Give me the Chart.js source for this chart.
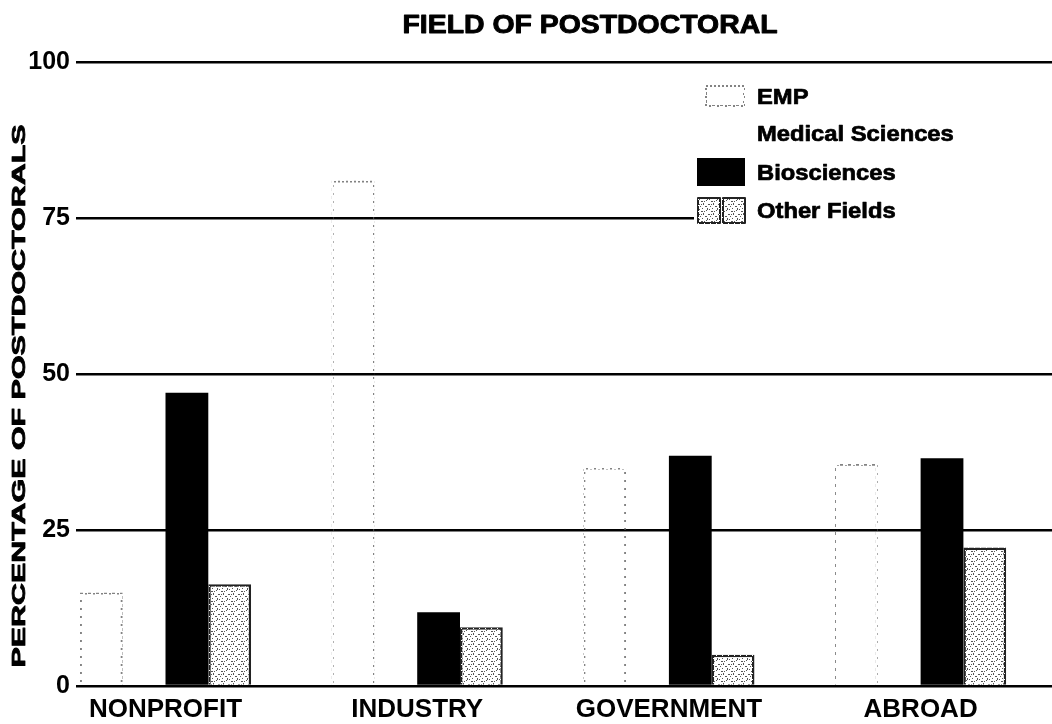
<!DOCTYPE html>
<html><head><meta charset="utf-8">
<script src="https://cdn.jsdelivr.net/npm/chart.js@4.4.1/dist/chart.umd.min.js"></script>
<style>html,body{margin:0;padding:0;background:#fff;overflow:hidden}</style>
</head><body>
<canvas id="c" width="1052" height="724"></canvas>
<script>
// ---- data ----
const categories = ['NONPROFIT', 'INDUSTRY', 'GOVERNMENT', 'ABROAD'];
const seriesNames = ['EMP', 'Medical Sciences', 'Biosciences', 'Other Fields'];
const empValues = [15, 81, 35, 35.6];
const medicalValues = [null, null, null, null];
const bioValues = [47, 11.8, 36.9, 36.5];
const otherValues = [16.3, 9.4, 5, 22.2];
const yTickValues = [0, 25, 50, 75, 100];
const chartTitle = 'FIELD OF POSTDOCTORAL';
const yAxisTitle = 'PERCENTAGE OF POSTDOCTORALS';

const FONT = '"Liberation Sans", Arial, Helvetica, sans-serif';
const canvas = document.getElementById('c');
const ctx = canvas.getContext('2d');

function makePattern(size, bg, color, dots) {
  const c = document.createElement('canvas');
  c.width = size; c.height = size;
  const g = c.getContext('2d');
  if (bg) { g.fillStyle = bg; g.fillRect(0, 0, size, size); }
  g.fillStyle = color;
  dots.forEach(d => g.fillRect(d[0], d[1], d[2] || 1, d[3] || 1));
  return ctx.createPattern(c, 'repeat');
}
const stipple = makePattern(10, '#ffffff', '#555555',
  [[1,1,2,1],[6,0],[3,3,1,2],[8,4,2,1],[0,6],[5,6,2,1],[2,8],[7,8,1,2],[4,1],[9,9],[1,4]]);
const dottedEdge = makePattern(8, null, 'rgba(90,90,90,0.75)',
  [[0,0,3,2],[5,1,2,2],[2,4,2,3],[6,5,2,2]]);
const otherEdge = makePattern(6, '#222222', '#ffffff', [[2,1],[5,4]]);

const toPoints = arr => arr.map((v, i) => ({x: i, y: v}));

const datasets = [
  {label: seriesNames[0], data: toPoints(empValues), backgroundColor: 'rgba(0,0,0,0)',
   borderColor: dottedEdge, borderWidth: 2, borderSkipped: 'start'},
  {label: seriesNames[1], data: toPoints(medicalValues), backgroundColor: 'rgba(0,0,0,0)',
   borderWidth: 0},
  {label: seriesNames[2], data: toPoints(bioValues), backgroundColor: '#000000', borderWidth: 0},
  {label: seriesNames[3], data: toPoints(otherValues), backgroundColor: stipple,
   borderColor: otherEdge, borderWidth: 2.5, borderSkipped: 'start'}
];

function heavyText(g, text, x, y) {
  g.fillText(text, x, y);
  g.strokeText(text, x, y);
}

const decor = {
  id: 'decor',
  afterDraw(chart) {
    const g = chart.ctx;
    g.save();
    g.fillStyle = '#000'; g.strokeStyle = '#000'; g.lineJoin = 'round';
    // title
    g.font = 'bold 25px ' + FONT;
    g.textAlign = 'center'; g.textBaseline = 'alphabetic';
    let w = g.measureText(chartTitle).width;
    g.save(); g.translate(590, 33); g.scale(375 / w, 1); g.lineWidth = 0.9;
    heavyText(g, chartTitle, 0, 0); g.restore();
    // y axis title
    g.font = 'bold 19px ' + FONT;
    w = g.measureText(yAxisTitle).width;
    g.save(); g.translate(25, 396); g.rotate(-Math.PI / 2); g.scale(543 / w, 1); g.lineWidth = 0.8;
    heavyText(g, yAxisTitle, 0, 0); g.restore();
    // legend box
    g.fillStyle = '#fff';
    g.fillRect(694, 78, 358, 152);
    const ds = chart.data.datasets;
    // swatches
    g.strokeStyle = ds[0].borderColor; g.lineWidth = 2;
    g.strokeRect(706, 86, 38, 20);
    g.fillStyle = ds[2].backgroundColor;
    g.fillRect(697, 158, 48, 28);
    g.fillStyle = ds[3].backgroundColor; g.strokeStyle = ds[3].borderColor; g.lineWidth = 2;
    g.fillRect(698, 198, 22, 25); g.strokeRect(698, 198, 22, 25);
    g.fillRect(723, 198, 22, 25); g.strokeRect(723, 198, 22, 25);
    // texts
    g.fillStyle = '#000'; g.strokeStyle = '#000'; g.lineWidth = 0.7;
    g.font = 'bold 22px ' + FONT;
    g.textAlign = 'left';
    const base = [104, 141, 180, 218];
    ds.forEach((d, i) => {
      g.save(); g.translate(757, base[i]); g.scale(1.08, 1); heavyText(g, d.label, 0, 0); g.restore();
    });
    g.restore();
  }
};

new Chart(canvas, {
  type: 'bar',
  data: {datasets},
  plugins: [decor],
  options: {
    responsive: false, animation: false, devicePixelRatio: 1,
    layout: {padding: {top: 62, left: 0, right: 0, bottom: 0}},
    datasets: {bar: {categoryPercentage: 0.68, barPercentage: 1}},
    plugins: {legend: {display: false}, title: {display: false}, tooltip: {enabled: false}},
    scales: {
      x: {
        type: 'linear', min: -0.3556, max: 3.522, offset: false,
        grid: {display: false}, border: {display: false},
        afterFit(s) { s.height = 38; },
        afterBuildTicks(s) { s.ticks = categories.map((c, i) => ({value: i})); },
        ticks: {stepSize: 1, includeBounds: false, autoSkip: false, maxRotation: 0, minRotation: 0,
          padding: 0, color: '#000', font: {family: FONT, size: 26, weight: 'bold'},
          callback: v => categories[v] !== undefined ? categories[v] : ''}
      },
      y: {
        min: 0, max: 100,
        afterFit(s) { s.width = 76; },
        afterBuildTicks(s) { s.ticks = yTickValues.map(v => ({value: v})); },
        border: {display: false},
        grid: {color: '#000', lineWidth: 2.5, drawTicks: false},
        ticks: {stepSize: 25, padding: 6, color: '#000', font: {family: FONT, size: 25, weight: 'bold'}}
      }
    }
  }
});
</script>
</body></html>
